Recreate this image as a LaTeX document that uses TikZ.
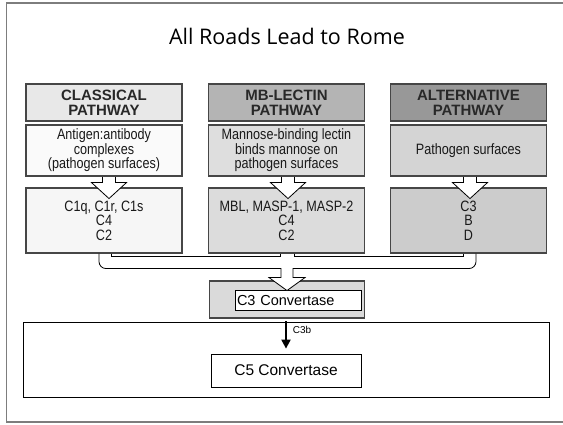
\documentclass[tikz,border=0pt]{standalone}
\usepackage{fontspec}
\setmainfont{Liberation Sans}
\newfontfamily\titlefont{Open Sans}
\newfontfamily\narrowfont[FakeStretch=0.84]{Liberation Sans}
\usetikzlibrary{arrows.meta, positioning, calc}
\definecolor{cFrame}{RGB}{125,125,125}
\definecolor{cEdge}{RGB}{70,70,70}
\definecolor{cText}{RGB}{40,40,40}
\definecolor{cHeadA}{RGB}{232,232,232}
\definecolor{cHeadB}{RGB}{180,180,180}
\definecolor{cHeadC}{RGB}{152,152,152}
\definecolor{cSrcA}{RGB}{250,250,250}
\definecolor{cSrcB}{RGB}{222,222,222}
\definecolor{cSrcC}{RGB}{212,212,212}
\definecolor{cCompA}{RGB}{246,246,246}
\definecolor{cCompB}{RGB}{220,220,220}
\definecolor{cCompC}{RGB}{204,204,204}
\definecolor{cConv}{RGB}{218,218,218}
\tikzset{
	headbox/.style={rectangle, draw=cEdge, line width=1.1pt, minimum width=156pt, minimum height=37pt, inner sep=0pt, align=center, text=cText, font=\bfseries\fontsize{15}{15}\selectfont},
	srcbox/.style ={rectangle, draw=cEdge, line width=1.1pt, minimum width=156pt, minimum height=51pt, inner sep=0pt, align=center, text=black!90, font=\narrowfont\fontsize{15}{14.5}\selectfont},
	compbox/.style={rectangle, draw=cEdge, line width=1.1pt, minimum width=156pt, minimum height=65pt, inner sep=0pt, align=center, text=black!90, font=\narrowfont\fontsize{15}{14.5}\selectfont},
	hollowarrow/.style={draw=black, fill=white, line width=0.8pt, line join=miter},
	chanline/.style={draw=black, line width=0.8pt},
	plainbox/.style={rectangle, draw=black, line width=0.8pt, fill=white, inner sep=0pt},
	stemarrow/.style={-{Triangle[width=9pt, length=9pt]}, line width=2pt},
}
\begin{document}
\begin{tikzpicture}[x=1pt, y=-1pt]
	\useasboundingbox (0,0) rectangle (563,424);
	% slide frame
	\draw[cFrame, line width=1.6pt] (563,3) -- (6.5,3) -- (6.5,422) -- (563,422);
	\node[font=\titlefont\fontsize{21.5}{24}\selectfont] (title) at (287,36) {All Roads Lead to Rome};

	% three pathways
	\node[headbox, fill=cHeadA] (head1) at (104,102.5) {CLASSICAL\\PATHWAY};
	\node[headbox, fill=cHeadB] (head2) at (286.5,102.5) {MB-LECTIN\\PATHWAY};
	\node[headbox, fill=cHeadC] (head3) at (468.5,102.5) {ALTERNATIVE\\PATHWAY};

	\node[srcbox, fill=cSrcA] (src1) at (104,150.5) {Antigen:antibody\\complexes\\(pathogen surfaces)};
	\node[srcbox, fill=cSrcB] (src2) at (286.5,150.5) {Mannose-binding lectin\\binds mannose on\\pathogen surfaces};
	\node[srcbox, fill=cSrcC] (src3) at (468.5,150.5) {Pathogen surfaces};

	\node[compbox, fill=cCompA] (comp1) at (104,220.5) {C1q, C1r, C1s\\C4\\C2};
	\node[compbox, fill=cCompB] (comp2) at (286.5,220.5) {MBL, MASP-1, MASP-2\\C4\\C2};
	\node[compbox, fill=cCompC] (comp3) at (468.5,220.5) {C3\\B\\D};

	\foreach \c/\dx in {1/5, 2/1.5, 3/1.5} {
		\filldraw[hollowarrow] ($(src\c.south)+(\dx-6.5,0.6)$) -- ++(0,5.4) -- ++(-11,0) -- ++(17.5,16) -- ++(17.5,-16) -- ++(-11,0) -- ++(0,-5.4);
	}

	% convertases
	\node[rectangle, draw=cEdge, line width=1.3pt, fill=cConv, minimum width=155pt, minimum height=37pt, inner sep=0pt] (c3out) at (286.75,299.5) {};
	\node[plainbox, minimum width=126pt, minimum height=20pt, text width=122pt, align=left, anchor=north east, font=\fontsize{14.5}{16}\selectfont] (c3conv) at ($(c3out.north east)+(-3.5,10)$) {C3 Convertase};
	\node[rectangle, draw=black, line width=0.8pt, minimum width=526pt, minimum height=75pt, inner sep=0pt] (c5area) at (286.85,359.5) {};
	\node[plainbox, minimum width=150pt, minimum height=33pt, font=\fontsize{15.5}{17}\selectfont] (c5conv) at (286,370.5) {C5 Convertase};

	% merging channel
	\fill[white] ($(comp2.south)+(-5.5,12)$) -- ++(0,12) -- ++(-12,0) -- ++(18,13) -- ++(18,-13) -- ++(-12,0) -- ++(0,-12) -- cycle;
	\draw[chanline] ($(comp1.south)+(-5,0)$) [rounded corners=7pt] -- ++(0,15) [sharp corners] -- ($(comp2.south)+(-5.5,15)$) -- ++(0,9) -- ++(-12,0) -- ++(18,13) -- ++(18,-13) -- ++(-12,0) -- ++(0,-9) [rounded corners=7pt] -- ($(comp3.south)+(7.5,15)$) -- ($(comp3.south)+(7.5,0)$);
	\draw[chanline] ($(comp1.south)+(7,0)$) -- ++(0,3) -- ($(comp2.south)+(-6.5,3)$) -- ++(0,-3);
	\draw[chanline] ($(comp2.south)+(7.5,0)$) -- ++(0,3) -- ($(comp3.south)+(-5.5,3)$) -- ++(0,-3);

	\draw[stemarrow] (c3out.south) ++(-0.75,2.5) -- ($(c5conv.north)+(0,-5)$);
	\node[font=\fontsize{10}{11}\selectfont, anchor=west] (c3b) at ($(c5area.north)+(2.5,8)$) {C3b};
\end{tikzpicture}
\end{document}
